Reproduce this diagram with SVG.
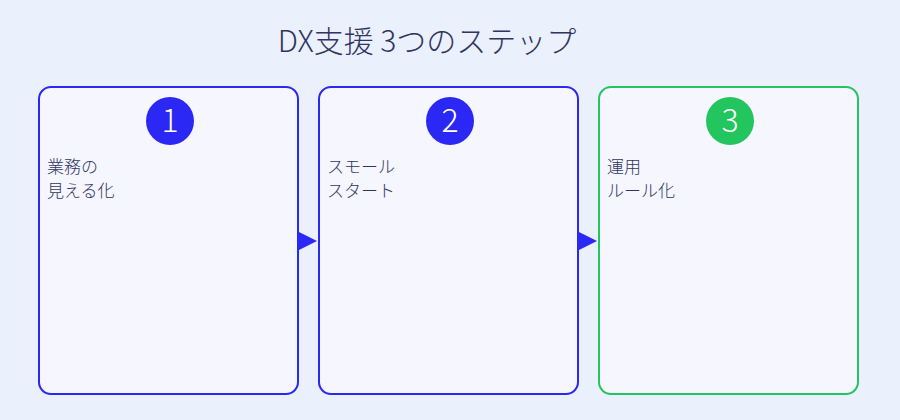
<svg xmlns="http://www.w3.org/2000/svg" width="900" height="420" viewBox="0 0 900 420">
<style>
text{font-family:"Noto Sans CJK JP","Noto Sans",sans-serif;fill:#2f3560;font-weight:300}
.box{fill:#f5f6fe;stroke-width:2}
.b{stroke:#2b27f5}.g{stroke:#22c55e}
.num{fill:#fff;font-size:32px;text-anchor:middle}
.lbl{font-size:17px}
</style>
<defs><marker id="ah" markerWidth="18" markerHeight="18" refX="16" refY="9" orient="auto" markerUnits="userSpaceOnUse"><path d="M0,0L18,9L0,18z" fill="#2b27f5"/></marker></defs>
<rect width="900" height="420" fill="#ebf0fd"/>
<text x="427" y="52" font-size="30" text-anchor="middle">DX支援 3つのステップ</text>
<g id="connectors" stroke="#2b27f5" stroke-width="2">
<line x1="298" y1="241" x2="315" y2="241" marker-end="url(#ah)"/>
<line x1="578" y1="241" x2="595" y2="241" marker-end="url(#ah)"/>
</g>
<g id="step1"><rect class="box b" x="39" y="87" width="259" height="307" rx="12"/><circle cx="170" cy="121" r="24" fill="#2b27f5"/><text class="num" x="170" y="132">1</text><text class="lbl" x="47" y="173">業務の</text><text class="lbl" x="47" y="197">見える化</text></g>
<g id="step2"><rect class="box b" x="319" y="87" width="259" height="307" rx="12"/><circle cx="450" cy="121" r="24" fill="#2b27f5"/><text class="num" x="450" y="132">2</text><text class="lbl" x="327" y="173">スモール</text><text class="lbl" x="327" y="197">スタート</text></g>
<g id="step3"><rect class="box g" x="599" y="87" width="259" height="307" rx="12"/><circle cx="730" cy="121" r="24" fill="#22c55e"/><text class="num" x="730" y="132">3</text><text class="lbl" x="607" y="173">運用</text><text class="lbl" x="607" y="197">ルール化</text></g>
</svg>
